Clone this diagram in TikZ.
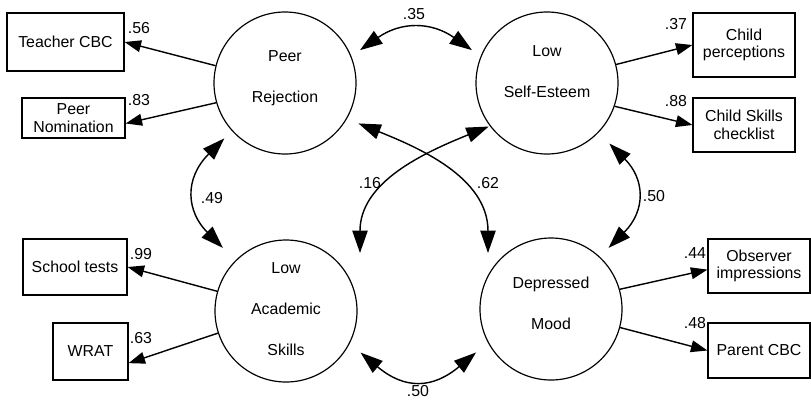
\documentclass[tikz,border=0pt]{standalone}
\usepackage{fontspec}
\setmainfont{Liberation Sans}
\usetikzlibrary{arrows.meta}
\begin{document}
\begin{tikzpicture}[
                x=0.85pt, y=0.85pt,
                latent/.style={
                    draw, circle, line width=1pt, minimum size=120.7pt, inner sep=0pt,
                    align=center, font=\fontsize{13.5}{35}\selectfont
                },
                box/.style 2 args={
                    draw, rectangle, line width=1pt, inner sep=0pt, align=center,
                    minimum width=#1*0.85pt, minimum height=#2*0.85pt,
                    font=\fontsize{13.5}{15}\selectfont
                },
                ind/.style={-{Triangle[length=14pt,width=10pt]}, line width=1.2pt},
                cor/.style={{Triangle[length=19pt,width=13pt]}-{Triangle[length=19pt,width=13pt]}, line width=1.2pt},
                coef/.style={font=\fontsize{13.5}{15}\selectfont, inner sep=0pt}
            ]
            \useasboundingbox (0,0) rectangle (811,-405);

            \node[latent, text depth=11pt] (pr) at (285,-83) {Peer\\Rejection};
            \node[latent, text depth=20pt] (se) at (547,-83) {Low\\Self-Esteem};
            \node[latent, text depth=3.5pt] (as) at (286,-311) {Low\\Academic\\Skills};
            \node[latent, text depth=10pt] (dm) at (551,-309) {Depressed\\Mood};

            \node[box={117}{58}] (tcbc) at (65.5,-42) {Teacher CBC};
            \node[box={103}{40}] (pnom) at (73.5,-118) {Peer\\Nomination};
            \node[box={104}{56}] (scht) at (75,-267) {School tests};
            \node[box={75}{57}] (wrat) at (90.5,-351.5) {WRAT};
            \node[box={102}{64}] (cper) at (744,-45) {Child\\perceptions};
            \node[box={102}{54}] (cskl) at (744,-125) {Child Skills\\checklist};
            \node[box={102}{54}] (obsv) at (759,-266) {Observer\\impressions};
            \node[box={102}{55}] (pcbc) at (759,-350.5) {Parent CBC};

            % loadings
            \draw[ind] (pr.166) -- (tcbc.east);
            \draw[ind] (pr.196) -- (pnom.-6);
            \draw[ind] (as.164) -- (scht.east);
            \draw[ind] (as.198) -- (wrat.-17);
            \draw[ind] (se.15) -- (cper.west);
            \draw[ind] (se.-19) -- (cskl.west);
            \draw[ind] (dm.16) -- (obsv.184);
            \draw[ind] (dm.-15) -- (pcbc.west);

            \node[coef] (l56) at (139,-28) {.56};
            \node[coef] (l83) at (139,-100) {.83};
            \node[coef] (l99) at (141,-254) {.99};
            \node[coef] (l63) at (141,-338) {.63};
            \node[coef] (l37) at (676,-24) {.37};
            \node[coef] (l88) at (676,-101) {.88};
            \node[coef] (l44) at (695,-253) {.44};
            \node[coef] (l48) at (695,-323) {.48};

            % correlations
            \draw[cor, shorten <=9pt, shorten >=9pt] (pr.22) to[out=35, in=145, looseness=1.2] (se.158);
            \draw[cor, shorten <=9pt, shorten >=15pt] (pr.222) to[out=225, in=135, looseness=1.35] (as.135);
            \draw[cor, shorten <=13pt, shorten >=10.5pt] (se.-44) to[out=-45, in=45, looseness=1.35] (dm.47);
            \draw[cor, shorten <=12pt, shorten >=13pt] (as.-27) to[out=-40, in=220, looseness=1.33] (dm.208);
            \draw[cor, shorten <=10.5pt] (pr.-30) to[out=-22, in=90] ([shift={(-63,56)}]dm.center);
            \draw[cor, shorten <=1pt] (se.217) to[out=202, in=90] ([shift={(74,58)}]as.center);

            \node[coef] (l35) at (414,-14) {.35};
            \node[coef] (l49) at (212,-198) {.49};
            \node[coef] (l50r) at (654,-196) {.50};
            \node[coef] (l50b) at (418,-391) {.50};
            \node[coef] (l16) at (370,-183) {.16};
            \node[coef] (l62) at (488,-183) {.62};
            \end{tikzpicture}
\end{document}
